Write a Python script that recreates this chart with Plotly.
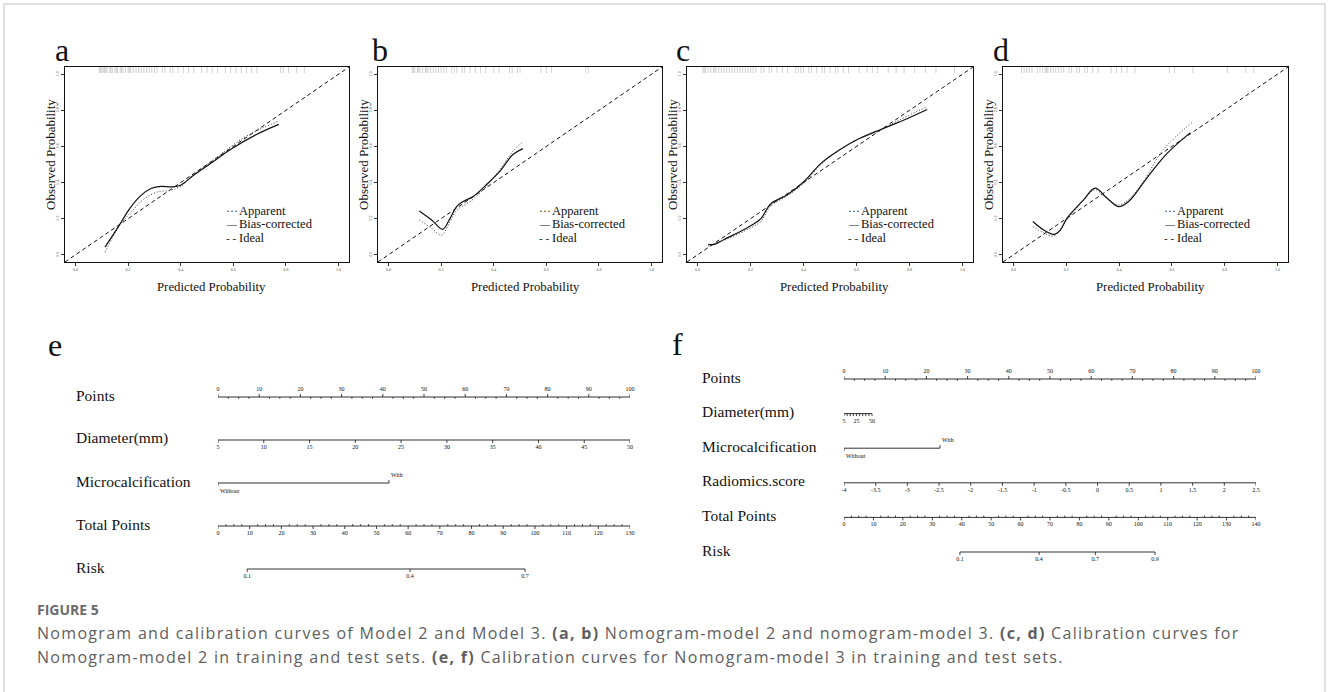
import plotly.graph_objects as go

W, H = 1328, 692
INK = "#111111"
SERIF = "Liberation Serif"

# ---------------- calibration data (a-d) ----------------
cal_ticks = [0.0, 0.2, 0.4, 0.6, 0.8, 1.0]
cal_tick_text = ["0.0", "0.2", "0.4", "0.6", "0.8", "1.0"]
AX_RANGE = [-0.04, 1.04]

a_app_x = [0.112, 0.168, 0.212, 0.262, 0.312, 0.361, 0.399, 0.449, 0.526, 0.638, 0.713, 0.773]
a_app_y = [0.014, 0.163, 0.237, 0.311, 0.348, 0.357, 0.379, 0.441, 0.527, 0.647, 0.703, 0.740]
a_bias_x = [0.112, 0.162, 0.206, 0.249, 0.287, 0.324, 0.368, 0.399, 0.449, 0.526, 0.589, 0.688, 0.773]
a_bias_y = [0.042, 0.153, 0.256, 0.329, 0.367, 0.379, 0.376, 0.385, 0.441, 0.518, 0.583, 0.666, 0.722]

b_app_x = [0.117, 0.164, 0.202, 0.234, 0.259, 0.322, 0.372, 0.423, 0.473, 0.509]
b_app_y = [0.193, 0.147, 0.109, 0.184, 0.245, 0.308, 0.378, 0.471, 0.573, 0.623]
b_bias_x = [0.117, 0.164, 0.206, 0.231, 0.259, 0.284, 0.322, 0.372, 0.423, 0.473, 0.511]
b_bias_y = [0.243, 0.193, 0.141, 0.193, 0.267, 0.295, 0.323, 0.388, 0.462, 0.555, 0.588]

c_app_x = [0.040, 0.100, 0.188, 0.239, 0.276, 0.339, 0.402, 0.465, 0.528, 0.603, 0.691, 0.766, 0.867]
c_app_y = [0.048, 0.080, 0.140, 0.185, 0.270, 0.327, 0.397, 0.499, 0.573, 0.638, 0.690, 0.750, 0.820]
c_bias_x = [0.040, 0.063, 0.100, 0.188, 0.239, 0.276, 0.339, 0.402, 0.465, 0.528, 0.603, 0.691, 0.766, 0.867]
c_bias_y = [0.058, 0.058, 0.085, 0.150, 0.200, 0.282, 0.332, 0.406, 0.505, 0.573, 0.638, 0.694, 0.738, 0.805]

d_app_x = [0.073, 0.114, 0.152, 0.202, 0.265, 0.309, 0.354, 0.398, 0.442, 0.492, 0.568, 0.675]
d_app_y = [0.156, 0.122, 0.104, 0.193, 0.301, 0.360, 0.310, 0.276, 0.314, 0.406, 0.583, 0.731]
d_bias_x = [0.073, 0.114, 0.152, 0.177, 0.202, 0.265, 0.309, 0.354, 0.398, 0.436, 0.505, 0.581, 0.669]
d_bias_y = [0.184, 0.137, 0.113, 0.137, 0.202, 0.304, 0.369, 0.314, 0.267, 0.295, 0.425, 0.560, 0.675]

rug_a = [0.09, 0.095, 0.10, 0.105, 0.11, 0.115, 0.12, 0.13, 0.135, 0.14, 0.15, 0.155, 0.16, 0.17,
         0.175, 0.18, 0.19, 0.20, 0.205, 0.21, 0.22, 0.23, 0.24, 0.25, 0.26, 0.27, 0.28, 0.29, 0.30,
         0.31, 0.33, 0.34, 0.36, 0.37, 0.39, 0.41, 0.43, 0.45, 0.48, 0.50, 0.52, 0.54, 0.57, 0.59,
         0.61, 0.63, 0.65, 0.67, 0.69, 0.78, 0.79, 0.81, 0.84, 0.87]
rug_b = [0.09, 0.095, 0.10, 0.11, 0.115, 0.12, 0.13, 0.14, 0.145, 0.15, 0.16, 0.17, 0.18, 0.19,
         0.20, 0.21, 0.22, 0.24, 0.25, 0.26, 0.28, 0.29, 0.31, 0.33, 0.35, 0.37, 0.40, 0.42, 0.46,
         0.47, 0.49, 0.50, 0.58, 0.60, 0.62, 0.75, 0.76]
rug_c = [0.02, 0.025, 0.03, 0.04, 0.05, 0.06, 0.065, 0.07, 0.08, 0.09, 0.10, 0.11, 0.12, 0.13, 0.14,
         0.15, 0.16, 0.17, 0.18, 0.19, 0.20, 0.21, 0.22, 0.24, 0.25, 0.27, 0.28, 0.30, 0.32, 0.34,
         0.37, 0.38, 0.39, 0.40, 0.42, 0.43, 0.45, 0.47, 0.48, 0.50, 0.52, 0.53, 0.55, 0.57, 0.61,
         0.64, 0.66, 0.68, 0.72, 0.75, 0.78, 0.82, 0.86, 0.90, 0.97]
rug_d = [0.03, 0.04, 0.05, 0.06, 0.07, 0.09, 0.10, 0.11, 0.12, 0.125, 0.13, 0.14, 0.15, 0.16,
         0.17, 0.18, 0.19, 0.21, 0.22, 0.24, 0.25, 0.27, 0.28, 0.30, 0.32, 0.37, 0.39, 0.41, 0.43,
         0.46, 0.59, 0.61, 0.68, 0.81, 0.88, 0.91]

cal_panels = [
    ("a", a_app_x, a_app_y, a_bias_x, a_bias_y, rug_a, (65, 349)),
    ("b", b_app_x, b_app_y, b_bias_x, b_bias_y, rug_b, (378, 662)),
    ("c", c_app_x, c_app_y, c_bias_x, c_bias_y, rug_c, (687, 973)),
    ("d", d_app_x, d_app_y, d_bias_x, d_bias_y, rug_d, (1003, 1288)),
]
letter_x = [62, 380, 683, 1001]
legend_labels = ["Apparent", "Bias-corrected", "Ideal"]
legend_glyphs = ["\u00b7\u00b7\u00b7", "\u2014", "- -"]
legend_glyph_sizes = [12, 10, 11]

# ---------------- nomogram data (e, f) ----------------
e_rows = ["Points", "Diameter(mm)", "Microcalcification", "Total Points", "Risk"]
f_rows = ["Points", "Diameter(mm)", "Microcalcification", "Radiomics.score", "Total Points", "Risk"]

points_major = [0, 10, 20, 30, 40, 50, 60, 70, 80, 90, 100]
points_minor_step = 2.5

e_diam_ticks = [5, 10, 15, 20, 25, 30, 35, 40, 45, 50]
e_diam_points = (0, 100)          # points for diameter 5 .. 50
e_micro_levels = ["Without", "With"]
e_micro_points = [0, 41.5]
e_total_major = [0, 10, 20, 30, 40, 50, 60, 70, 80, 90, 100, 110, 120, 130]
e_total_max = 130
e_risk_labels = ["0.1", "0.4", "0.7"]
e_risk_total = [9.2, 60.6, 96.9]

f_diam_ticks = [5, 10, 15, 20, 25, 30, 35, 40, 45, 50]
f_diam_labels = {5: "5", 25: "25", 50: "50"}
f_diam_points = (0, 6.8)
f_micro_levels = ["Without", "With"]
f_micro_points = [0, 23.3]
f_radio_ticks = [-4, -3.5, -3, -2.5, -2, -1.5, -1, -0.5, 0, 0.5, 1, 1.5, 2, 2.5]
f_radio_labels = ["-4", "-3.5", "-3", "-2.5", "-2", "-1.5", "-1", "-0.5", "0", "0.5", "1", "1.5", "2", "2.5"]
f_total_major = [0, 10, 20, 30, 40, 50, 60, 70, 80, 90, 100, 110, 120, 130, 140]
f_total_max = 140
f_risk_labels = ["0.1", "0.4", "0.7", "0.9"]
f_risk_total = [39.4, 66.3, 85.4, 105.7]


# ---------------- helpers ----------------
def pxx(x):
    return x / W


def pxy(y):
    return 1 - y / H


def scale(vals, v0, v1, p0, p1):
    return [p0 + (v - v0) * (p1 - p0) / (v1 - v0) for v in vals]


def note(text, x, y, size, xanchor="center", yanchor="middle", family=SERIF, color=INK, **kw):
    d = dict(text=text, x=pxx(x), y=pxy(y), xref="paper", yref="paper", xanchor=xanchor,
             yanchor=yanchor, showarrow=False, font=dict(family=family, size=size, color=color))
    d.update(kw)
    return d


fig = go.Figure()
annotations = []
layout_axes = {}

# ---------------- calibration panels ----------------
for i, (lab, ax_, ay_, bx_, by_, rug, (bx0, bx1)) in enumerate(cal_panels):
    n = i + 1
    xa = "x" if n == 1 else f"x{n}"
    ya = "y" if n == 1 else f"y{n}"
    xkey = "xaxis" if n == 1 else f"xaxis{n}"
    ykey = "yaxis" if n == 1 else f"yaxis{n}"
    common = dict(range=AX_RANGE, showline=True, mirror=True, linecolor=INK, linewidth=1.1,
                  ticks="outside", ticklen=3, tickwidth=0.7, tickcolor="#333",
                  tickvals=cal_ticks, ticktext=cal_tick_text,
                  tickfont=dict(family=SERIF, size=4, color="#555"),
                  showgrid=False, zeroline=False, fixedrange=True)
    layout_axes[xkey] = dict(common, domain=[pxx(bx0), pxx(bx1)], anchor=ya)
    layout_axes[ykey] = dict(common, domain=[pxy(262), pxy(67)], anchor=xa, tickangle=-90)

    fig.add_trace(go.Scatter(x=AX_RANGE, y=AX_RANGE, mode="lines",
                             line=dict(color=INK, width=1, dash="4px,3px"),
                             xaxis=xa, yaxis=ya, showlegend=False, hoverinfo="skip"))
    fig.add_trace(go.Scatter(x=ax_, y=ay_, mode="lines", line_shape="spline",
                             line=dict(color="#333", width=1, dash="1px,2px"),
                             xaxis=xa, yaxis=ya, showlegend=False, hoverinfo="skip"))
    fig.add_trace(go.Scatter(x=bx_, y=by_, mode="lines", line_shape="spline",
                             line=dict(color=INK, width=1.2),
                             xaxis=xa, yaxis=ya, showlegend=False, hoverinfo="skip"))
    fig.add_trace(go.Scatter(x=rug, y=[AX_RANGE[1] - 0.014] * len(rug), mode="markers",
                             marker=dict(symbol="line-ns", size=5, line=dict(color="#b0b0b0", width=0.6)),
                             xaxis=xa, yaxis=ya, showlegend=False, hoverinfo="skip"))

    annotations.append(note("Observed Probability", bx0 - 15, 155, 13, textangle=-90))
    annotations.append(note("Predicted Probability", bx0 + 147, 287, 12.8))
    annotations.append(note(lab, letter_x[i], 50, 32))
    for k, (g, t) in enumerate(zip(legend_glyphs, legend_labels)):
        yy = 210.7 + 13.7 * k
        annotations.append(note(g, bx0 + 159, yy, legend_glyph_sizes[k], xanchor="left",
                                color="#333" if k == 0 else INK))
        annotations.append(note(t, bx0 + 172, yy, 12.5, xanchor="left"))


# ---------------- nomograms ----------------
def add_lines(segs, xa, ya, width=0.8, color=INK):
    X, Y = [], []
    for (x0, y0, x1, y1) in segs:
        X += [x0, x1, None]
        Y += [y0, y1, None]
    fig.add_trace(go.Scatter(x=X, y=Y, mode="lines", line=dict(color=color, width=width),
                             xaxis=xa, yaxis=ya, showlegend=False, hoverinfo="skip",
                             cliponaxis=False))


def add_labels(xs, texts, yv, xa, ya, size=6):
    fig.add_trace(go.Scatter(x=xs, y=[yv] * len(xs), text=texts, mode="text",
                             textposition="middle center",
                             textfont=dict(family=SERIF, size=size, color=INK),
                             xaxis=xa, yaxis=ya, showlegend=False, hoverinfo="skip",
                             cliponaxis=False))


def nomogram(xa, ya, ppr, specs):
    segs_main, segs_ticks = [], []
    for r, sp in enumerate(specs):
        lo, hi = sp["line"]
        segs_main.append((lo, r, hi, r))
        for (x, d, L) in sp["ticks"]:
            segs_ticks.append((x, r, x, r - d * L / ppr))
        for d in (1, -1):
            items = [(x, t) for (x, t, dd) in sp["labels"] if dd == d]
            if items:
                add_labels([p[0] for p in items], [p[1] for p in items], r - d * 7.5 / ppr, xa, ya)
        for (x, t, dd) in sp.get("left_labels", []):
            annotations.append(dict(text=t, x=x, y=r - dd * 8 / ppr, xref=xa, yref=ya,
                                    xanchor="left", yanchor="middle", showarrow=False,
                                    font=dict(family=SERIF, size=6, color=INK)))
    add_lines(segs_main, xa, ya, width=1.0, color="#333")
    add_lines(segs_ticks, xa, ya, width=0.8)


def points_spec():
    minor = [k * points_minor_step for k in range(int(100 / points_minor_step) + 1)]
    ticks = [(v, 1, 3) for v in points_major] + [(v, -1, 1.8) for v in minor if v not in points_major]
    labels = [(v, str(v), 1) for v in points_major]
    return dict(line=(0, 100), ticks=ticks, labels=labels)


def total_spec(major, tmax):
    minor = [k * points_minor_step for k in range(int(tmax / points_minor_step) + 1)]
    mx = scale(major, 0, tmax, 0, 100)
    mn = scale([v for v in minor if v not in major], 0, tmax, 0, 100)
    ticks = [(x, -1, 3) for x in mx] + [(x, 1, 1.8) for x in mn]
    labels = [(x, str(v), -1) for x, v in zip(mx, major)]
    return dict(line=(0, 100), ticks=ticks, labels=labels)


def risk_spec(labels_, totals, tmax):
    xs = scale(totals, 0, tmax, 0, 100)
    return dict(line=(xs[0], xs[-1]), ticks=[(x, -1, 3) for x in xs],
                labels=[(x, t, -1) for x, t in zip(xs, labels_)])


def micro_spec(levels, pts):
    return dict(line=(pts[0], pts[-1]), ticks=[(pts[0], -1, 3), (pts[-1], 1, 3)], labels=[],
                left_labels=[(pts[0], levels[0], -1), (pts[-1], levels[1], 1)])


# panel e
e_ppr = 43.0
e_top, e_xs = 397, (218, 630)
e_diam_x = scale(e_diam_ticks, 5, 50, *e_diam_points)
e_specs = [
    points_spec(),
    dict(line=tuple(e_diam_points), ticks=[(x, -1, 3) for x in e_diam_x],
         labels=[(x, str(v), -1) for x, v in zip(e_diam_x, e_diam_ticks)]),
    micro_spec(e_micro_levels, e_micro_points),
    total_spec(e_total_major, e_total_max),
    risk_spec(e_risk_labels, e_risk_total, e_total_max),
]
layout_axes["xaxis5"] = dict(domain=[pxx(e_xs[0]), pxx(e_xs[1])], range=[0, 100], visible=False,
                             anchor="y5", fixedrange=True)
layout_axes["yaxis5"] = dict(domain=[pxy(e_top + 4.5 * e_ppr), pxy(e_top - 0.5 * e_ppr)],
                             range=[4.5, -0.5], visible=False, anchor="x5", fixedrange=True)
nomogram("x5", "y5", e_ppr, e_specs)
for r, name in enumerate(e_rows):
    annotations.append(dict(text=name, x=pxx(74), y=r, xref="paper", yref="y5", xanchor="left",
                            yanchor="middle", yshift=2, showarrow=False,
                            font=dict(family=SERIF, size=15.5, color=INK)))
annotations.append(note("e", 55, 345, 32))

# panel f
f_ppr = 34.6
f_top, f_xs = 379, (844, 1256)
f_diam_x = scale(f_diam_ticks, 5, 50, *f_diam_points)
f_radio_x = scale(f_radio_ticks, -4, 2.5, 0, 100)
f_specs = [
    points_spec(),
    dict(line=tuple(f_diam_points), ticks=[(x, -1, 2.5) for x in f_diam_x],
         labels=[(x, f_diam_labels[v], -1) for x, v in zip(f_diam_x, f_diam_ticks) if v in f_diam_labels]),
    micro_spec(f_micro_levels, f_micro_points),
    dict(line=(0, 100), ticks=[(x, -1, 3) for x in f_radio_x],
         labels=[(x, t, -1) for x, t in zip(f_radio_x, f_radio_labels)]),
    total_spec(f_total_major, f_total_max),
    risk_spec(f_risk_labels, f_risk_total, f_total_max),
]
layout_axes["xaxis6"] = dict(domain=[pxx(f_xs[0]), pxx(f_xs[1])], range=[0, 100], visible=False,
                             anchor="y6", fixedrange=True)
layout_axes["yaxis6"] = dict(domain=[pxy(f_top + 5.5 * f_ppr), pxy(f_top - 0.5 * f_ppr)],
                             range=[5.5, -0.5], visible=False, anchor="x6", fixedrange=True)
nomogram("x6", "y6", f_ppr, f_specs)
for r, name in enumerate(f_rows):
    annotations.append(dict(text=name, x=pxx(700), y=r, xref="paper", yref="y6", xanchor="left",
                            yanchor="middle", yshift=2, showarrow=False,
                            font=dict(family=SERIF, size=15.5, color=INK)))
annotations.append(note("f", 677, 344, 32))

# ---------------- caption ----------------
CAP = "Open Sans"
SP = '<span style="letter-spacing:1.3px">'
annotations.append(note("<b>FIGURE 5</b>", 35, 609.5, 14,
                        xanchor="left", family=CAP, color="#6b6b6b"))
annotations.append(note(
    SP + "Nomogram and calibration curves of Model 2 and Model 3. <b>(a, b)</b> Nomogram-model 2 and "
         "nomogram-model 3. <b>(c, d)</b> Calibration curves for</span>",
    35, 633, 16, xanchor="left", family=CAP, color="#5e5e5e"))
annotations.append(note(
    SP + "Nomogram-model 2 in training and test sets. <b>(e, f)</b> Calibration curves for "
         "Nomogram-model 3 in training and test sets.</span>",
    35, 657, 16, xanchor="left", family=CAP, color="#5e5e5e"))

# card frame
shapes = [dict(type="rect", xref="paper", yref="paper", x0=pxx(4), x1=pxx(1325), y0=-0.1, y1=pxy(4),
               line=dict(color="#d6d6d6", width=1.5), fillcolor="rgba(0,0,0,0)", layer="below")]

fig.update_layout(width=W, height=H, margin=dict(l=0, r=0, t=0, b=0),
                  paper_bgcolor="white", plot_bgcolor="white", showlegend=False,
                  annotations=annotations, shapes=shapes, **layout_axes)

fig.write_html("out.html", config={"displayModeBar": False},
               post_script="document.body.style.margin='0';")
